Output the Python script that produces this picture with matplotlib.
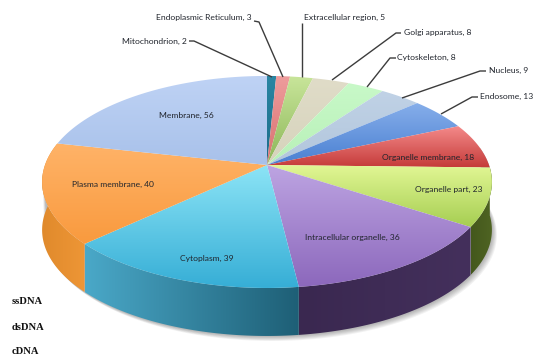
import numpy as np
import matplotlib
matplotlib.use('Agg')
import matplotlib.pyplot as plt
from matplotlib.colors import LinearSegmentedColormap
from matplotlib.patches import Polygon

# slices clockwise from 12 o'clock
names = ['Mitochondrion', 'Endoplasmic Reticulum', 'Extracellular region', 'Golgi apparatus',
         'Cytoskeleton', 'Nucleus', 'Endosome', 'Organelle membrane', 'Organelle part',
         'Intracellular organelle', 'Cytoplasm', 'Plasma membrane', 'Membrane']
values = [2, 3, 5, 8, 8, 9, 13, 18, 23, 36, 39, 40, 56]

top_light = ['#2a86a3', '#ee9c9c', '#c8e59a', '#e0dcc8', '#c8f9c8', '#c0d2e6', '#86aeea',
             '#f48a8a', '#e2f795', '#bda4e2', '#8ce4f6', '#ffb368', '#bfd3f5']
top_dark = ['#1c6c88', '#d87070', '#8cb658', '#d6d3bc', '#b8f0b8', '#b2c6dc', '#4a80d2',
            '#c43a38', '#a6ce52', '#8c68bc', '#36aed6', '#f99a3e', '#a8c1ea']
side_left = {8: '#44581c', 9: '#3a2850', 10: '#4aa8c8', 11: '#e08a2c'}
side_right = {8: '#4f6423', 9: '#44305c', 10: '#1e5f76', 11: '#ee9636'}

# label text position, leader points
label_pos = [(187, 41, 'right'), (252, 17, 'right'), (304, 17, 'left'), (404, 32, 'left'),
             (397, 57, 'left'), (489, 70, 'left'), (480, 96, 'left'), (428, 157, 'center'),
             (449, 189, 'center'), (352, 237, 'center'), (207, 258, 'center'),
             (113, 184, 'center'), (186, 115, 'center')]
leaders = [[(189, 41), (194, 41), (272, 77)], [(254, 21), (259, 22), (283, 77)],
           [(302, 23), (302, 77)], [(401, 33), (396, 33), (332, 80)],
           [(396, 58), (390, 58), (367, 87)], [(486, 71), (480, 71), (402, 98)],
           [(478, 97), (472, 97), (441, 114)]]
side_texts = ['ssDNA', 'dsDNA', 'cDNA']
side_text_y = [301, 327, 352]

cx, cy = 267, 165
a, b, k = 222, 103.3, 0.16
depth = 48


def rim(theta):
    u, v = np.sin(theta), np.cos(theta)
    w = 1 + k * v
    return cx + a * u / w, cy - b * v / w


def gradient(ax, poly, c0, c1, horizontal=False):
    x0, x1 = poly[:, 0].min(), poly[:, 0].max()
    y0, y1 = poly[:, 1].min(), poly[:, 1].max()
    cmap = LinearSegmentedColormap.from_list('g', [c0, c1])
    ramp = np.linspace(0, 1, 128)
    ramp = ramp.reshape(1, -1) if horizontal else ramp.reshape(-1, 1)
    im = ax.imshow(ramp, cmap=cmap, extent=(x0, x1, y1, y0), aspect='auto', zorder=3, interpolation='bilinear')
    patch = Polygon(poly, closed=True, transform=ax.transData, fill=False, edgecolor='none')
    ax.add_patch(patch)
    im.set_clip_path(patch)


fig = plt.figure(figsize=(5.35, 3.56), dpi=100)
ax = fig.add_axes([0, 0, 1, 1])
plt.rcParams['font.family'] = ['Lato', 'DejaVu Sans']

edges = np.cumsum([0] + values) / sum(values) * 2 * np.pi

# soft shadow under the body
t = np.linspace(np.radians(80), np.radians(265), 200)
sx, sy = rim(t)
for i in range(6):
    off = 1 + i * 0.8
    outline = np.column_stack([np.r_[sx + off, sx[::-1]], np.r_[sy + depth + off, sy[::-1]]])
    ax.add_patch(Polygon(outline, closed=True, facecolor='#000000', edgecolor='none', alpha=0.05, zorder=1))

# side walls
for i in side_left:
    t = np.linspace(edges[i], edges[i + 1], 80)
    x, y = rim(t)
    poly = np.column_stack([np.r_[x, x[::-1]], np.r_[y, y[::-1] + depth]])
    gradient(ax, poly, side_left[i], side_right[i], horizontal=True)

# top faces
for i in range(len(values)):
    t = np.linspace(edges[i], edges[i + 1], 80)
    x, y = rim(t)
    poly = np.column_stack([np.r_[cx, x], np.r_[cy, y]])
    gradient(ax, poly, top_light[i], top_dark[i])

for pts in leaders:
    xs, ys = zip(*pts)
    ax.plot(xs, ys, color='#3c3c3c', lw=1.0, zorder=4, solid_capstyle='butt')

for name, val, (x, y, ha) in zip(names, values, label_pos):
    ax.text(x, y, f'{name}, {val}', ha=ha, va='center', fontsize=6.1, color='#20242c', zorder=5, clip_on=True)

for s, y in zip(side_texts, side_text_y):
    ax.text(12, y, s, family='Liberation Serif', weight='bold', fontsize=7.6, va='center', color='#111111', zorder=5)

ax.set_xlim(0, 535)
ax.set_ylim(356, 0)
ax.axis('off')
fig.savefig('out.png', dpi=100, facecolor='white')
